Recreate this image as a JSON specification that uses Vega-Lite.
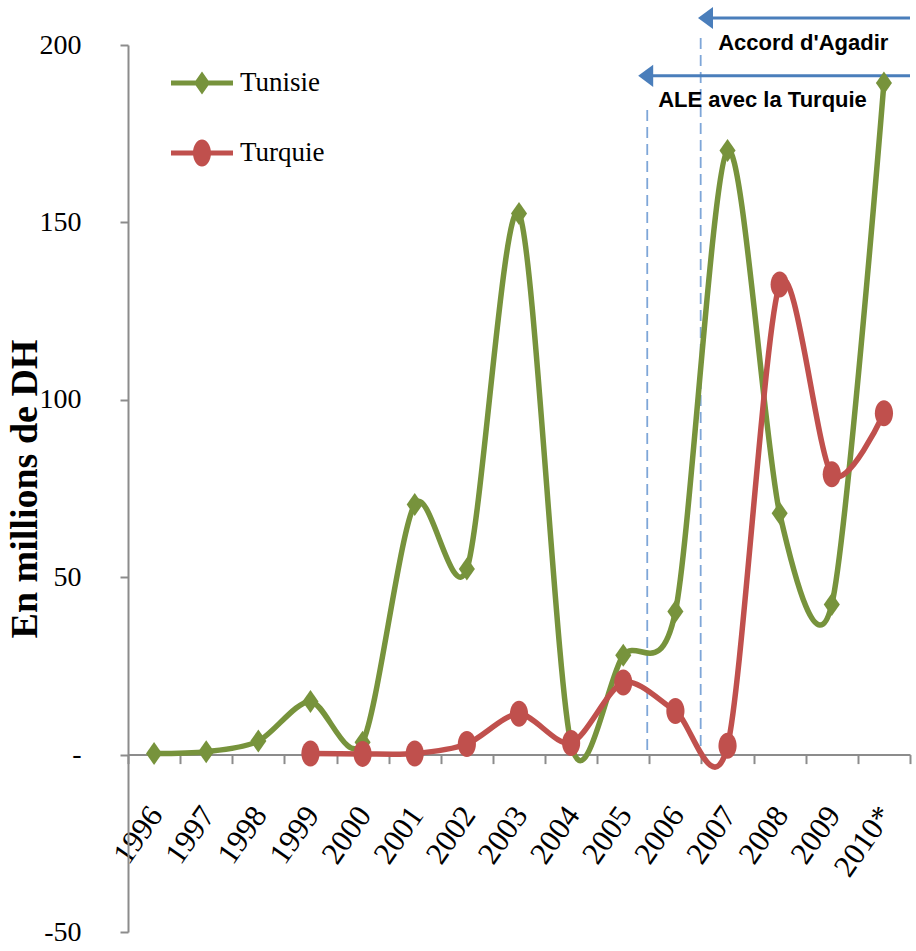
{
  "$schema": "https://vega.github.io/schema/vega-lite/v6.json",
  "width": 782,
  "height": 887,
  "autosize": {"type": "none"},
  "padding": {"left": 128, "top": 45, "right": 6, "bottom": 19},
  "background": "white",
  "config": {"view": {"stroke": null}, "font": "Liberation Serif"},
  "data": {
    "values": [
      {"year": "1996", "series": "Tunisie", "value": 0.3},
      {"year": "1997", "series": "Tunisie", "value": 0.8},
      {"year": "1998", "series": "Tunisie", "value": 3.8},
      {"year": "1999", "series": "Tunisie", "value": 15},
      {"year": "2000", "series": "Tunisie", "value": 3.5},
      {"year": "2001", "series": "Tunisie", "value": 70.5},
      {"year": "2002", "series": "Tunisie", "value": 52.3},
      {"year": "2003", "series": "Tunisie", "value": 152.5},
      {"year": "2004", "series": "Tunisie", "value": 3},
      {"year": "2005", "series": "Tunisie", "value": 28},
      {"year": "2006", "series": "Tunisie", "value": 40.3},
      {"year": "2007", "series": "Tunisie", "value": 170.3},
      {"year": "2008", "series": "Tunisie", "value": 68},
      {"year": "2009", "series": "Tunisie", "value": 42.3},
      {"year": "2010*", "series": "Tunisie", "value": 189.3},
      {"year": "1999", "series": "Turquie", "value": 0.3},
      {"year": "2000", "series": "Turquie", "value": 0.2},
      {"year": "2001", "series": "Turquie", "value": 0.3},
      {"year": "2002", "series": "Turquie", "value": 3},
      {"year": "2003", "series": "Turquie", "value": 11.5},
      {"year": "2004", "series": "Turquie", "value": 3.3},
      {"year": "2005", "series": "Turquie", "value": 20.3},
      {"year": "2006", "series": "Turquie", "value": 12.3},
      {"year": "2007", "series": "Turquie", "value": 2.5},
      {"year": "2008", "series": "Turquie", "value": 132.5},
      {"year": "2009", "series": "Turquie", "value": 79},
      {"year": "2010*", "series": "Turquie", "value": 96.2}
    ]
  },
  "layer": [
    {
      "data": {"values": [{}]},
      "mark": {"type": "rule", "color": "#7EA6D8", "strokeWidth": 1.8, "strokeDash": [11, 6]},
      "encoding": {
        "x": {"datum": "2006", "type": "nominal", "bandPosition": -0.04, "title": null},
        "y": {"datum": 181.7, "type": "quantitative", "title": null},
        "y2": {"datum": 0}
      }
    },
    {
      "data": {"values": [{}]},
      "mark": {"type": "rule", "color": "#7EA6D8", "strokeWidth": 1.8, "strokeDash": [11, 6]},
      "encoding": {
        "x": {"datum": "2007", "type": "nominal", "bandPosition": -0.015, "title": null},
        "y": {"datum": 202, "type": "quantitative", "title": null},
        "y2": {"datum": 0}
      }
    },
    {
      "data": {"values": [{}]},
      "mark": {"type": "rule", "color": "#4A7EBB", "strokeWidth": 3},
      "encoding": {
        "x": {"datum": "2007", "type": "nominal", "bandPosition": 0.077, "title": null},
        "x2": {"value": "width"},
        "y": {"datum": 207.6, "type": "quantitative", "title": null}
      }
    },
    {
      "data": {"values": [{}]},
      "mark": {"type": "point", "filled": true, "opacity": 1, "color": "#4A7EBB", "size": 225, "shape": "M-1,0L1,-1.47L1,1.47Z"},
      "encoding": {
        "x": {"datum": "2007", "type": "nominal", "bandPosition": 0.077, "title": null},
        "y": {"datum": 207.6, "type": "quantitative", "title": null}
      }
    },
    {
      "data": {"values": [{}]},
      "mark": {"type": "rule", "color": "#4A7EBB", "strokeWidth": 3},
      "encoding": {
        "x": {"datum": "2005", "type": "nominal", "bandPosition": 0.93, "title": null},
        "x2": {"value": "width"},
        "y": {"datum": 191.3, "type": "quantitative", "title": null}
      }
    },
    {
      "data": {"values": [{}]},
      "mark": {"type": "point", "filled": true, "opacity": 1, "color": "#4A7EBB", "size": 225, "shape": "M-1,0L1,-1.47L1,1.47Z"},
      "encoding": {
        "x": {"datum": "2005", "type": "nominal", "bandPosition": 0.93, "title": null},
        "y": {"datum": 191.3, "type": "quantitative", "title": null}
      }
    },
    {
      "data": {"values": [{}]},
      "mark": {"type": "text", "text": "Accord d'Agadir", "font": "Liberation Sans", "fontWeight": "bold", "fontSize": 22, "align": "left", "baseline": "alphabetic", "color": "black"},
      "encoding": {
        "x": {"datum": "2007", "type": "nominal", "bandPosition": 0.32, "title": null},
        "y": {"datum": 198.6, "type": "quantitative", "title": null}
      }
    },
    {
      "data": {"values": [{}]},
      "mark": {"type": "text", "text": "ALE avec la Turquie", "font": "Liberation Sans", "fontWeight": "bold", "fontSize": 22, "align": "left", "baseline": "alphabetic", "color": "black"},
      "encoding": {
        "x": {"datum": "2006", "type": "nominal", "bandPosition": 0.17, "title": null},
        "y": {"datum": 182.5, "type": "quantitative", "title": null}
      }
    },
    {
      "transform": [{"filter": "datum.series == 'Tunisie'"}],
      "mark": {"type": "line", "color": "#77933C", "strokeWidth": 5.5, "interpolate": "cardinal", "tension": 0.15},
      "encoding": {
        "x": {
          "field": "year", "type": "nominal",
          "scale": {"domain": ["1996","1997","1998","1999","2000","2001","2002","2003","2004","2005","2006","2007","2008","2009","2010*"], "paddingInner": 0, "paddingOuter": 0},
          "axis": {
            "title": null, "offset": -177.4, "tickBand": "extent",
            "domainColor": "#8C8C8C", "domainWidth": 2, "tickColor": "#8C8C8C", "tickWidth": 2, "tickSize": 9,
            "labelAngle": -55, "labelAlign": "right", "labelBaseline": "middle", "labelPadding": 46, "labelOffset": 2,
            "labelFont": "Liberation Serif", "labelFontSize": 31, "labelColor": "black", "labelOverlap": false, "labelBound": false, "labelFlush": false, "grid": false
          }
        },
        "y": {
          "field": "value", "type": "quantitative",
          "scale": {"domain": [-50, 200], "nice": false, "zero": false},
          "axis": {
            "title": "En millions de DH", "titleFont": "Liberation Serif", "titleFontSize": 38, "titleFontWeight": "bold", "titleColor": "black", "titlePadding": -5,
            "values": [-50, 0, 50, 100, 150, 200], "labelExpr": "datum.value == 0 ? '-' : (datum.value < 0 ? '-' + (-datum.value) : '' + datum.value)",
            "domainColor": "#8C8C8C", "domainWidth": 2, "tickColor": "#8C8C8C", "tickWidth": 2, "tickSize": 8,
            "labelFont": "Liberation Serif", "labelFontSize": 28, "labelColor": "black", "labelPadding": 39, "grid": false
          }
        }
      }
    },
    {
      "transform": [{"filter": "datum.series == 'Tunisie'"}],
      "mark": {"type": "point", "filled": true, "opacity": 1, "color": "#77933C", "size": 529, "shape": "M0,-1L0.7,0L0,1L-0.7,0Z"},
      "encoding": {
        "x": {"field": "year", "type": "nominal"},
        "y": {"field": "value", "type": "quantitative"}
      }
    },
    {
      "transform": [{"filter": "datum.series == 'Turquie'"}],
      "mark": {"type": "line", "color": "#C0504D", "strokeWidth": 5.5, "interpolate": "cardinal", "tension": 0.15},
      "encoding": {
        "x": {"field": "year", "type": "nominal"},
        "y": {"field": "value", "type": "quantitative"}
      }
    },
    {
      "transform": [{"filter": "datum.series == 'Turquie'"}],
      "mark": {"type": "point", "filled": true, "opacity": 1, "color": "#C0504D", "size": 676, "shape": "M0.7,0A0.7,1 0 1,1 -0.7,0A0.7,1 0 1,1 0.7,0Z"},
      "encoding": {
        "x": {"field": "year", "type": "nominal"},
        "y": {"field": "value", "type": "quantitative"}
      }
    },
    {
      "data": {"values": []},
      "mark": {"type": "point", "filled": true, "opacity": 1},
      "encoding": {
        "color": {
          "field": "series", "type": "nominal",
          "scale": {"domain": ["Tunisie", "Turquie"], "range": ["#77933C", "#C0504D"]},
          "legend": {"orient": "none", "legendX": 43, "legendY": 7, "title": null, "padding": 0, "symbolSize": 3844, "symbolStrokeWidth": 0, "labelFont": "Liberation Serif", "labelFontSize": 27, "labelColor": "black", "labelOffset": 7, "rowPadding": 26}
        },
        "shape": {
          "field": "series", "type": "nominal",
          "scale": {"domain": ["Tunisie", "Turquie"], "range": ["M-1,-0.08H1V0.08H-1Z M0,-0.37L0.26,0L0,0.37L-0.26,0Z", "M-1,-0.08H1V0.08H-1Z M0.29,0A0.29,0.435 0 1,1 -0.29,0A0.29,0.435 0 1,1 0.29,0Z"]},
          "legend": {"orient": "none", "legendX": 43, "legendY": 7, "title": null, "padding": 0, "symbolSize": 3844, "symbolStrokeWidth": 0, "labelFont": "Liberation Serif", "labelFontSize": 27, "labelColor": "black", "labelOffset": 7, "rowPadding": 26}
        }
      }
    }
  ]
}
